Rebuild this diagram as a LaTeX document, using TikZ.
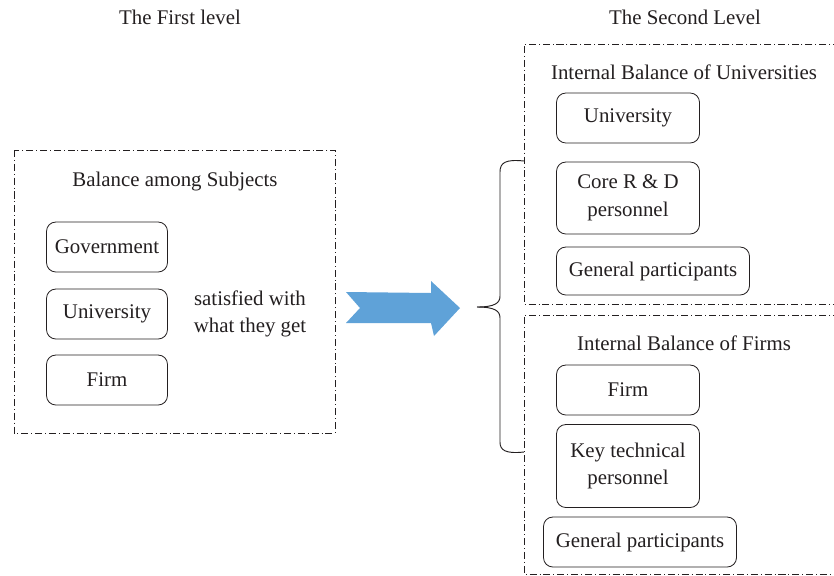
\documentclass[tikz,border=0pt]{standalone}
\usepackage{fontspec}
\setmainfont{Liberation Serif}
\definecolor{inkgray}{RGB}{35,31,32}
\definecolor{arrowblue}{RGB}{95,162,216}
\tikzset{
	frame/.style={inkgray, line width=0.6pt, dash pattern=on 6pt off 2.5pt on 0.8pt off 2.5pt},
	box/.style={draw=inkgray, line width=0.7pt, rounded corners=8pt, align=center, inner sep=0pt},
	lbl/.style={text=inkgray, align=center, font=\fontsize{17.8}{23.5}\selectfont}
}
\begin{document}
\begin{tikzpicture}[x=0.03cm, y=-0.03cm, every node/.style={lbl}]
		\useasboundingbox (0, 0) rectangle (834, 575);
		% titles
		\node (first) at (180, 17) {The First level};
		\node (second) at (685, 17) {The Second Level};
		% first level
		\draw[frame] (14, 150) rectangle (335, 433);
		\node (subj) at (175, 182) {Balance among Subjects};
		\foreach \name/\txt/\y in {gov/Government/247, uni/University/314, firm/Firm/380}{
			\node[box, minimum width=3.63cm, minimum height=1.5cm] (\name) at (107, \y) {\txt};
		}
		\node (sat) at (250, 314) {satisfied with\\what they get};
		% arrow
		\fill[arrowblue] (346, 292) -- (431, 293) -- (431, 281) -- (460, 308) -- (434, 336)
			-- (431, 323) -- (346, 323) -- (360, 308) -- cycle;
		% brace
		\draw[inkgray, line width=0.8pt] (524, 161) .. controls (505, 159) and (500, 163) .. (500, 172) -- (500, 296)
			.. controls (500, 303) and (495, 307) .. (477, 307);
		\draw[inkgray, line width=0.8pt] (477, 307) .. controls (495, 307) and (500, 311) .. (500, 318) -- (500, 442)
			.. controls (500, 450) and (505, 454) .. (524, 452);
		% second level: universities
		\draw[frame] (840, 44) -- (524, 44) -- (524, 304) -- (840, 304);
		\node (inuni) at (684, 72) {Internal Balance of Universities};
		\node[box, minimum width=4.29cm, minimum height=1.5cm] (uni2) at (628, 118) {University};
		\node[box, minimum width=4.29cm, minimum height=2.16cm] (core) at (628, 198) {Core R \& D\\personnel};
		\node[box, minimum width=5.79cm, minimum height=1.44cm] (gen1) at (653, 271) {General participants};
		% second level: firms
		\draw[frame] (840, 315) -- (524, 315) -- (524, 574) -- (840, 574);
		\node (infirm) at (684, 343) {Internal Balance of Firms};
		\node[box, minimum width=4.29cm, minimum height=1.5cm] (firm2) at (628, 390) {Firm};
		\node[box, minimum width=4.29cm, minimum height=2.49cm] (key) at (628, 466) {Key technical\\personnel};
		\node[box, minimum width=5.79cm, minimum height=1.5cm] (gen2) at (640, 542) {General participants};
	\end{tikzpicture}
\end{document}
